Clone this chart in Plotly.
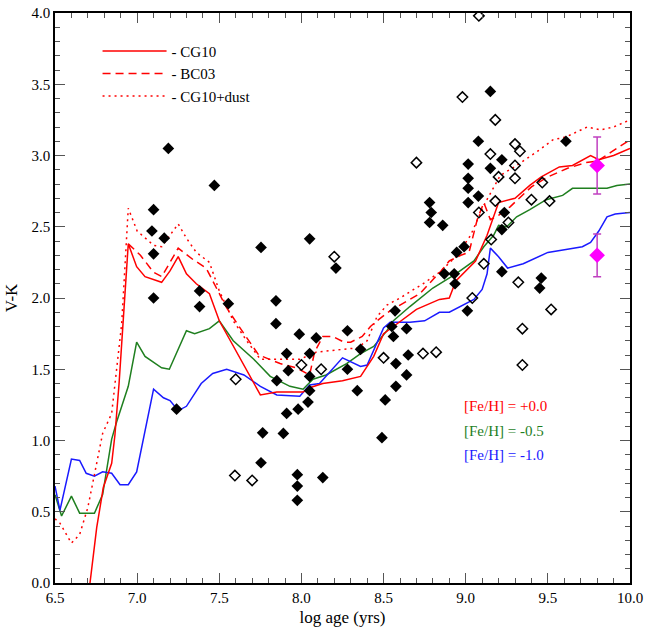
import plotly.graph_objects as go

# ---- model tracks ----
cg10_x = [6.713, 6.754, 6.794, 6.845, 6.865, 6.89, 6.914, 6.946, 6.997, 7.048, 7.149, 7.20, 7.25, 7.30, 7.36, 7.44, 7.50,
          7.75, 7.85, 8.01, 8.05, 8.13, 8.25, 8.36, 8.44, 8.50, 8.56, 8.70, 8.84, 8.90, 8.94, 9.06, 9.13, 9.20, 9.30,
          9.39, 9.46, 9.57, 9.65, 9.76, 9.81, 9.90, 10.0]
cg10_y = [0.0, 0.39, 0.67, 0.84, 1.04, 1.40, 1.82, 2.38, 2.22, 2.15, 2.11, 2.19, 2.29, 2.17, 2.10, 2.03, 1.84,
          1.32, 1.34, 1.34, 1.37, 1.40, 1.42, 1.45, 1.59, 1.75, 1.80, 1.92, 1.99, 2.00, 2.12, 2.26, 2.44, 2.67, 2.70,
          2.79, 2.85, 2.92, 2.93, 3.00, 2.97, 3.00, 3.05]

bc03_x = [6.946, 7.02, 7.10, 7.15, 7.25, 7.34, 7.42, 7.48, 7.545, 7.65, 7.74, 7.87, 7.97, 8.05, 8.08, 8.13, 8.19,
          8.26, 8.30, 8.37, 8.42, 8.46, 8.54, 8.60, 8.72, 8.85, 8.90, 8.97, 9.02, 9.07, 9.11, 9.15, 9.20, 9.27,
          9.40, 9.50, 9.62, 9.73, 9.80, 9.88, 10.0]
bc03_y = [2.38, 2.30, 2.18, 2.15, 2.35, 2.27, 2.21, 2.08, 1.93, 1.75, 1.60, 1.54, 1.51, 1.46, 1.62, 1.73, 1.73,
          1.69, 1.69, 1.73, 1.80, 1.84, 1.91, 1.95, 2.03, 2.19, 2.26, 2.30, 2.32, 2.55, 2.67, 2.55, 2.58, 2.64,
          2.78, 2.85, 2.91, 2.95, 2.96, 3.02, 3.11]

dust_x = [6.5, 6.53, 6.60, 6.65, 6.70, 6.754, 6.79, 6.845, 6.865, 6.906, 6.946, 7.0, 7.10, 7.15, 7.25, 7.30, 7.36,
          7.44, 7.50, 7.585, 7.667, 7.75, 7.85, 7.99, 8.09, 8.19, 8.34, 8.40, 8.46, 8.52, 8.60, 8.74, 8.84, 8.94,
          9.03, 9.11, 9.21, 9.31, 9.45, 9.53, 9.61, 9.74, 9.82, 9.90, 10.0]
dust_y = [0.45, 0.42, 0.28, 0.34, 0.53, 0.83, 1.05, 1.19, 1.40, 1.82, 2.63, 2.47, 2.37, 2.36, 2.52, 2.42, 2.32,
          2.25, 2.05, 1.84, 1.70, 1.57, 1.57, 1.57, 1.62, 1.63, 1.65, 1.70, 1.87, 1.95, 2.00, 2.10, 2.18, 2.29,
          2.44, 2.65, 2.86, 2.93, 3.04, 3.11, 3.13, 3.20, 3.18, 3.20, 3.25]

feh05_x = [6.5, 6.54, 6.60, 6.65, 6.74, 6.79, 6.845, 6.875, 6.946, 6.997, 7.048, 7.149, 7.196, 7.30, 7.35, 7.44,
           7.50, 7.585, 7.71, 7.81, 7.93, 8.01, 8.07, 8.15, 8.275, 8.36, 8.44, 8.52, 8.56, 8.66, 8.80, 8.94, 9.05,
           9.11, 9.17, 9.20, 9.25, 9.31, 9.39, 9.49, 9.59, 9.65, 9.74, 9.86, 9.92, 10.0]
feh05_y = [0.62, 0.47, 0.61, 0.49, 0.49, 0.62, 1.01, 1.13, 1.38, 1.69, 1.59, 1.51, 1.50, 1.77, 1.75, 1.785,
           1.84, 1.70, 1.57, 1.45, 1.38, 1.36, 1.43, 1.46, 1.54, 1.61, 1.66, 1.77, 1.84, 1.94, 2.07, 2.17, 2.26,
           2.36, 2.44, 2.51, 2.50, 2.57, 2.62, 2.69, 2.72, 2.77, 2.77, 2.77, 2.79, 2.80]

feh10_x = [6.5, 6.53, 6.60, 6.65, 6.69, 6.74, 6.79, 6.845, 6.896, 6.946, 6.997, 7.048, 7.10, 7.16, 7.20, 7.25, 7.30,
           7.39, 7.46, 7.545, 7.65, 7.75, 7.85, 7.99, 8.05, 8.11, 8.25, 8.36, 8.40, 8.50, 8.54, 8.66, 8.75, 8.84,
           8.90, 9.05, 9.10, 9.13, 9.15, 9.20, 9.255, 9.35, 9.41, 9.50, 9.61, 9.71, 9.76, 9.81, 9.86, 9.91, 10.0]
feh10_y = [0.68, 0.51, 0.87, 0.86, 0.77, 0.75, 0.78, 0.77, 0.69, 0.69, 0.78, 1.06, 1.36, 1.30, 1.28, 1.21, 1.24,
           1.40, 1.47, 1.50, 1.46, 1.38, 1.32, 1.31, 1.39, 1.40, 1.58, 1.52, 1.53, 1.79, 1.83, 1.83, 1.84, 1.90,
           1.90, 1.99, 2.06, 2.17, 2.35, 2.29, 2.21, 2.24, 2.27, 2.32, 2.34, 2.36, 2.39, 2.47, 2.57, 2.59, 2.60]

# ---- observed clusters ----
filled_x = [7.19, 7.47, 7.10, 7.09, 7.165, 7.10, 7.754, 7.10, 7.38, 7.38, 7.555, 7.24, 8.05, 8.21, 7.845, 7.845,
            7.987, 8.09, 8.28, 7.91, 8.05, 8.36, 7.92, 8.28, 8.05, 7.85, 8.05, 8.34, 8.04, 7.98, 7.91, 7.89, 7.764,
            7.754, 7.975, 7.975, 7.975, 8.13, 8.49, 8.51, 8.575, 8.64, 8.575, 8.65, 8.56, 8.64, 8.55, 8.57, 9.01,
            8.87, 8.93, 8.935, 8.945, 8.99, 9.22, 9.46, 9.45, 8.86, 8.78, 8.79, 8.78, 9.015, 9.077, 9.015, 9.015,
            9.015, 9.15, 9.22, 9.077, 9.61, 9.15, 9.235, 9.22]
filled_y = [3.05, 2.79, 2.62, 2.47, 2.42, 2.31, 2.355, 2.00, 2.05, 1.94, 1.96, 1.22, 2.415, 2.21, 1.98, 1.82,
            1.746, 1.72, 1.77, 1.61, 1.61, 1.64, 1.49, 1.50, 1.45, 1.42, 1.35, 1.35, 1.27, 1.22, 1.19, 1.05, 1.054,
            0.844, 0.76, 0.68, 0.58, 0.74, 1.02, 1.285, 1.38, 1.46, 1.54, 1.60, 1.73, 1.785, 1.80, 1.91, 1.91,
            2.17, 2.17, 2.10, 2.32, 2.36, 2.185, 2.14, 2.07, 2.51, 2.53, 2.60, 2.67, 2.67, 2.715, 2.77, 2.84,
            2.94, 2.91, 2.97, 3.10, 3.10, 3.45, 2.60, 2.48]

open_x = [7.595, 7.70, 7.60, 8.00, 8.12, 8.20, 8.50, 8.74, 8.82, 8.70, 8.98, 9.08, 9.18, 9.30, 9.33, 9.15, 9.30,
          9.20, 9.30, 9.466, 9.40, 9.51, 9.18, 9.08, 9.26, 9.155, 9.11, 9.32, 9.04, 9.52, 9.345, 9.345]
open_y = [0.754, 0.72, 1.43, 1.53, 1.50, 2.29, 1.58, 1.61, 1.62, 2.95, 3.41, 3.98, 3.25, 3.08, 3.03, 3.01, 2.93,
          2.85, 2.84, 2.81, 2.69, 2.68, 2.68, 2.60, 2.53, 2.41, 2.24, 2.11, 2.00, 1.92, 1.785, 1.53]

mag_x = [9.8, 9.8]
mag_y = [2.93, 2.30]
mag_err = [0.20, 0.15]

x_ticks = [6.5, 7.0, 7.5, 8.0, 8.5, 9.0, 9.5, 10.0]
y_ticks = [0.0, 0.5, 1.0, 1.5, 2.0, 2.5, 3.0, 3.5, 4.0]

RED = "#ff0000"
GREEN = "#1f7f1f"
BLUE = "#1a1aff"
FONT = "Liberation Serif, Times New Roman, DejaVu Serif, serif"

fig = go.Figure()
fig.add_trace(go.Scatter(x=feh05_x, y=feh05_y, mode="lines", line=dict(color=GREEN, width=1.5), showlegend=False))
fig.add_trace(go.Scatter(x=feh10_x, y=feh10_y, mode="lines", line=dict(color=BLUE, width=1.5), showlegend=False))
fig.add_trace(go.Scatter(x=cg10_x, y=cg10_y, mode="lines", name="- CG10", line=dict(color=RED, width=1.5)))
fig.add_trace(go.Scatter(x=bc03_x, y=bc03_y, mode="lines", name="- BC03", line=dict(color=RED, width=1.5, dash="8px,5px")))
fig.add_trace(go.Scatter(x=dust_x, y=dust_y, mode="lines", name="- CG10+dust", line=dict(color=RED, width=1.5, dash="2px,4px")))
fig.add_trace(go.Scatter(x=filled_x, y=filled_y, mode="markers", showlegend=False,
                         marker=dict(symbol="diamond", size=9, color="black", line=dict(width=0))))
fig.add_trace(go.Scatter(x=open_x, y=open_y, mode="markers", showlegend=False,
                         marker=dict(symbol="diamond-open", size=8, color="black", line=dict(width=1.5))))
fig.add_trace(go.Scatter(x=mag_x, y=mag_y, mode="markers", showlegend=False,
                         marker=dict(symbol="diamond", size=12, color="#ff00ff"),
                         error_y=dict(type="data", array=mag_err, color="#c040c0", thickness=1.5, width=4)))

fig.add_annotation(x=8.98, y=1.24, xref="x", yref="y", text="[Fe/H] = +0.0", showarrow=False,
                   xanchor="left", font=dict(color=RED, size=15, family=FONT))
fig.add_annotation(x=8.98, y=1.07, xref="x", yref="y", text="[Fe/H] = -0.5", showarrow=False,
                   xanchor="left", font=dict(color=GREEN, size=15, family=FONT))
fig.add_annotation(x=8.98, y=0.90, xref="x", yref="y", text="[Fe/H] = -1.0", showarrow=False,
                   xanchor="left", font=dict(color=BLUE, size=15, family=FONT))

axis_common = dict(showgrid=False, zeroline=False, showline=True, linecolor="black", linewidth=1.5,
                   mirror="allticks", ticks="inside", ticklen=10, tickcolor="#555555", tickwidth=1.2,
                   ticklabeloverflow="allow",
                   tickfont=dict(family=FONT, size=15, color="black"))
fig.update_xaxes(range=[6.5, 10.0], tickvals=x_ticks, ticktext=[f"{v:.1f}" for v in x_ticks],
                 title=dict(text="log age (yrs)", font=dict(family=FONT, size=17, color="black"), standoff=6),
                 minor=dict(ticks="inside", dtick=0.1, tick0=6.5, ticklen=5, tickcolor="#555555", tickwidth=1),
                 **axis_common)
fig.update_yaxes(range=[0.0, 4.0], tickvals=y_ticks, ticktext=[f"{v:.1f}" for v in y_ticks],
                 title=dict(text="V-K", font=dict(family=FONT, size=17, color="black"), standoff=10),
                 minor=dict(ticks="inside", dtick=0.1, tick0=0, ticklen=5, tickcolor="#555555", tickwidth=1),
                 **axis_common)

fig.update_layout(width=648, height=632, margin=dict(l=55, r=18, t=5, b=49),
                  plot_bgcolor="white", paper_bgcolor="white",
                  font=dict(family=FONT, size=15, color="black"),
                  legend=dict(x=0.074, y=0.962, xanchor="left", yanchor="top", bgcolor="rgba(0,0,0,0)",
                              itemwidth=64, tracegroupgap=0,
                              font=dict(family=FONT, size=15, color="black")))
fig.write_html("out.html", config={"displayModeBar": False},
               post_script="document.body.style.margin='0';document.body.style.overflow='hidden';")
